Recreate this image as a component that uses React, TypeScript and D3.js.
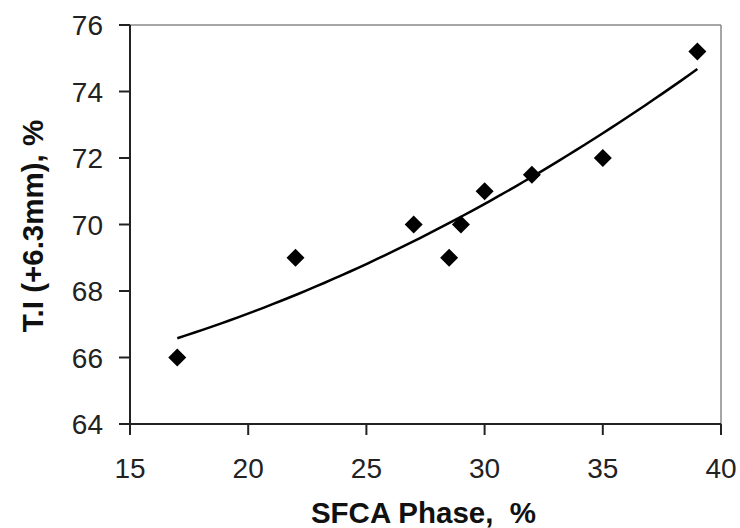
import React from "react";
import * as d3 from "d3";

const sfcaPhase = [17, 22, 27, 28.5, 29, 30, 32, 35, 39];
const tiValues = [66, 69, 70, 69, 70, 71, 71.5, 72, 75.2];
const xTicks = [15, 20, 25, 30, 35, 40];
const yTicks = [64, 66, 68, 70, 72, 74, 76];

const W = 740;
const H = 528;
const left = 130;
const right = 721;
const top = 25;
const bottom = 424;

function quadFit(xs: number[], ys: number[]) {
  // least squares y = a + b x + c x^2
  const n = xs.length;
  let s1 = 0, s2 = 0, s3 = 0, s4 = 0, t0 = 0, t1 = 0, t2 = 0;
  for (let i = 0; i < n; i++) {
    const x = xs[i], y = ys[i];
    s1 += x; s2 += x * x; s3 += x * x * x; s4 += x * x * x * x;
    t0 += y; t1 += x * y; t2 += x * x * y;
  }
  const M = [
    [n, s1, s2, t0],
    [s1, s2, s3, t1],
    [s2, s3, s4, t2],
  ];
  for (let i = 0; i < 3; i++) {
    let p = i;
    for (let r = i + 1; r < 3; r++) if (Math.abs(M[r][i]) > Math.abs(M[p][i])) p = r;
    [M[i], M[p]] = [M[p], M[i]];
    for (let r = 0; r < 3; r++) {
      if (r === i) continue;
      const f = M[r][i] / M[i][i];
      for (let c = i; c < 4; c++) M[r][c] -= f * M[i][c];
    }
  }
  return [M[0][3] / M[0][0], M[1][3] / M[1][1], M[2][3] / M[2][2]];
}

export default function App() {
  const x = d3.scaleLinear().domain([15, 40]).range([left, right]);
  const y = d3.scaleLinear().domain([64, 76]).range([bottom, top]);
  const [a, b, c] = quadFit(sfcaPhase, tiValues);
  const xMin = d3.min(sfcaPhase)!;
  const xMax = d3.max(sfcaPhase)!;
  const trendX = d3.range(0, 61).map((i) => xMin + ((xMax - xMin) * i) / 60);
  const line = d3
    .line<number>()
    .x((v) => x(v))
    .y((v) => y(a + b * v + c * v * v))
    .curve(d3.curveLinear);
  const font = "'Liberation Sans', Arial, sans-serif";
  const diamond = (cx: number, cy: number, r: number) =>
    `M${cx},${cy - r}L${cx + r},${cy}L${cx},${cy + r}L${cx - r},${cy}Z`;

  return (
    <svg
      width={W}
      height={H}
      style={{ position: "absolute", left: 0, top: 0, background: "#fff" }}
      fontFamily={font}
    >
      <rect x={0} y={0} width={W} height={H} fill="#fff" />
      {/* frame top/right */}
      <line x1={left} x2={right} y1={top} y2={top} stroke="#888" strokeWidth={1.5} />
      <line x1={right} x2={right} y1={top} y2={bottom} stroke="#888" strokeWidth={1.5} />
      {/* axes */}
      <line x1={left} x2={left} y1={top} y2={bottom + 1} stroke="#222" strokeWidth={2} />
      <line x1={left - 1} x2={right} y1={bottom} y2={bottom} stroke="#222" strokeWidth={2} />
      {yTicks.map((t) => (
        <g key={"y" + t}>
          <line x1={left - 11} x2={left} y1={y(t)} y2={y(t)} stroke="#222" strokeWidth={2} />
          <text
            x={left - 27}
            y={y(t)}
            dy="0.36em"
            textAnchor="end"
            fontSize={28}
            fill="#222"
          >
            {t}
          </text>
        </g>
      ))}
      {xTicks.map((t) => (
        <g key={"x" + t}>
          <line x1={x(t)} x2={x(t)} y1={bottom} y2={bottom + 11} stroke="#222" strokeWidth={2} />
          <text x={x(t)} y={478} textAnchor="middle" fontSize={28} fill="#222">
            {t}
          </text>
        </g>
      ))}
      <text
        x={(307 + 540) / 2}
        y={523}
        textAnchor="middle"
        fontSize={29.5}
        fontWeight="bold"
        fill="#111"
        style={{ whiteSpace: "pre" }}
      >
        {"SFCA Phase,  %"}
      </text>
      <text
        transform={`translate(43,226) rotate(-90)`}
        textAnchor="middle"
        fontSize={29.5}
        fontWeight="bold"
        fill="#111"
      >
        T.I (+6.3mm), %
      </text>
      <path d={line(trendX) || ""} fill="none" stroke="#000" strokeWidth={2.5} />
      {sfcaPhase.map((v, i) => (
        <path key={i} d={diamond(x(v), y(tiValues[i]), 9)} fill="#000" />
      ))}
    </svg>
  );
}
